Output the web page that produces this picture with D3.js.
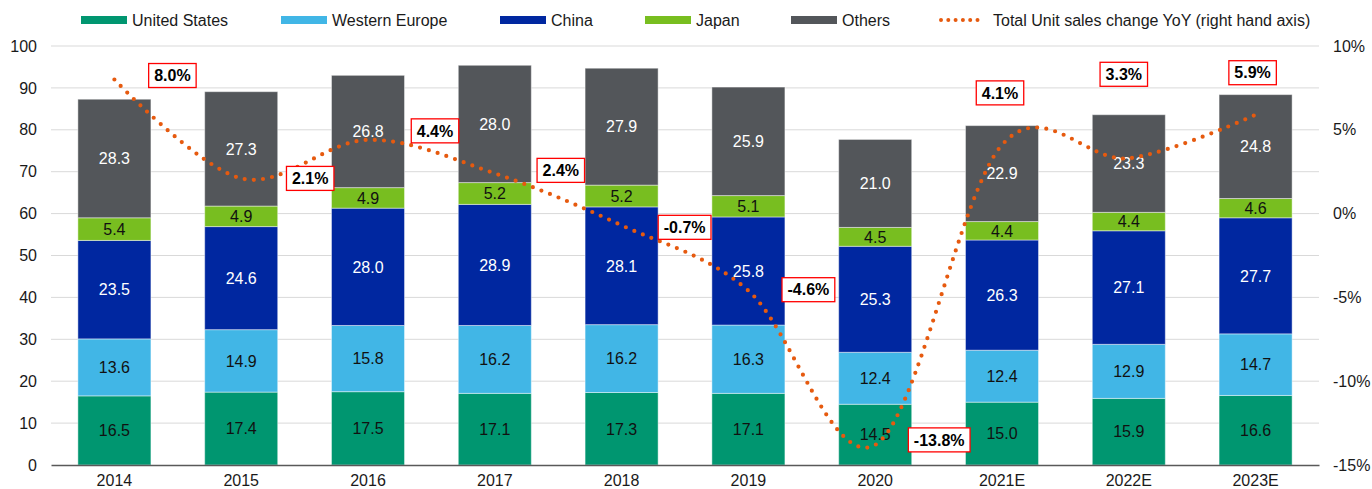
<!DOCTYPE html>
<html>
<head>
<meta charset="utf-8">
<script src="https://cdn.jsdelivr.net/npm/d3@7"></script>
<style>
  body { margin: 0; background: #fff; }
  text { font-family: "Liberation Sans", Arial, sans-serif; }
</style>
</head>
<body>
<div id="vis-container"></div>
<script>
// categories and values
var years = ["2014", "2015", "2016", "2017", "2018", "2019", "2020", "2021E", "2022E", "2023E"];
var unitedStates = [16.5, 17.4, 17.5, 17.1, 17.3, 17.1, 14.5, 15.0, 15.9, 16.6];
var westernEurope = [13.6, 14.9, 15.8, 16.2, 16.2, 16.3, 12.4, 12.4, 12.9, 14.7];
var china = [23.5, 24.6, 28.0, 28.9, 28.1, 25.8, 25.3, 26.3, 27.1, 27.7];
var japan = [5.4, 4.9, 4.9, 5.2, 5.2, 5.1, 4.5, 4.4, 4.4, 4.6];
var others = [28.3, 27.3, 26.8, 28.0, 27.9, 25.9, 21.0, 22.9, 23.3, 24.8];
var yoyChange = [8.0, 2.1, 4.4, 2.4, -0.7, -4.6, -13.8, 4.1, 3.3, 5.9];

var leftTicks = [0, 10, 20, 30, 40, 50, 60, 70, 80, 90, 100];
var rightTicks = [-15, -10, -5, 0, 5, 10];

var series = [
    { name: "United States", values: unitedStates, color: "#009670", text: "#111" },
    { name: "Western Europe", values: westernEurope, color: "#41B6E6", text: "#111" },
    { name: "China", values: china, color: "#0027A0", text: "#fff" },
    { name: "Japan", values: japan, color: "#78BE20", text: "#111" },
    { name: "Others", values: others, color: "#53565A", text: "#fff" }
];
var lineName = "Total Unit sales change YoY (right hand axis)";
var lineColor = "#E65A0F";

// where the YoY callouts sit relative to their point (px), placed by hand in the original
var calloutOffset = [[58, -4], [69, 0], [67, -9], [66, -3], [63, 2], [60, -1], [64, -5], [-2, -52], [-5, -84], [-3, -42]];

var width = 1372;
var height = 489;
var margins = { top: 46, right: 53, bottom: 24, left: 51 };
var visWidth = width - margins.left - margins.right;
var visHeight = height - margins.top - margins.bottom;

var svg = d3.select("#vis-container").append("svg")
    .attr("width", width)
    .attr("height", height);

var viewport = svg.append("g")
    .attr("transform", "translate(" + margins.left + "," + margins.top + ")");

var x = d3.scaleBand().domain(years).range([0, visWidth]).paddingInner(0.424).paddingOuter(0.212);
var y = d3.scaleLinear().domain([0, 100]).range([visHeight, 0]);
var yRight = d3.scaleLinear().domain([-15, 10]).range([visHeight, 0]);

// gridlines
viewport.append("g").selectAll("line")
    .data(leftTicks.filter(d => d > 0)).enter()
    .append("line")
    .attr("x1", 0).attr("x2", visWidth)
    .attr("y1", d => y(d)).attr("y2", d => y(d))
    .attr("stroke", "#D9D9D9").attr("stroke-width", 1);

// stacked bars
var rows = years.map((yr, i) => {
    var r = { year: yr };
    series.forEach(s => { r[s.name] = s.values[i]; });
    return r;
});
var stack = d3.stack().keys(series.map(s => s.name))(rows);

var layers = viewport.append("g").selectAll("g")
    .data(stack).enter()
    .append("g");

layers.each(function(layer, li) {
    var s = series[li];
    var g = d3.select(this);
    g.selectAll("rect")
        .data(layer).enter()
        .append("rect")
        .attr("x", d => x(d.data.year))
        .attr("width", x.bandwidth())
        .attr("y", d => y(d[1]))
        .attr("height", d => y(d[0]) - y(d[1]))
        .attr("fill", s.color)
        .attr("stroke", "rgba(255,255,255,0.45)")
        .attr("stroke-width", 1);
    g.selectAll("text")
        .data(layer).enter()
        .append("text")
        .attr("x", d => x(d.data.year) + x.bandwidth() / 2)
        .attr("y", d => (y(d[0]) + y(d[1])) / 2)
        .attr("dy", "0.36em")
        .attr("text-anchor", "middle")
        .attr("font-size", 16)
        .attr("fill", s.text)
        .text(d => (d[1] - d[0]).toFixed(1));
});

// axes
var axisG = viewport.append("g");

var xAxis = axisG.append("g")
    .attr("transform", "translate(0," + visHeight + ")")
    .call(d3.axisBottom(x).tickSize(0).tickSizeOuter(0).tickPadding(10));
xAxis.select(".domain").attr("stroke", "#595959").attr("stroke-width", 1.3);

var yAxis = axisG.append("g")
    .call(d3.axisLeft(y).tickValues(leftTicks).tickSize(0).tickPadding(14));

var yAxisRight = axisG.append("g")
    .attr("transform", "translate(" + visWidth + ",0)")
    .call(d3.axisRight(yRight).tickValues(rightTicks).tickSize(0).tickPadding(14).tickFormat(d => d + "%"));

[xAxis, yAxis, yAxisRight].forEach(a => {
    a.selectAll("text").attr("font-size", 16).attr("fill", "#1a1a1a")
        .style("font-family", "'Liberation Sans', Arial, sans-serif");
});
yAxis.select(".domain").remove();
yAxisRight.select(".domain").remove();

// YoY line, smoothed like the spreadsheet one
var lineGen = d3.line()
    .x((d, i) => x(years[i]) + x.bandwidth() / 2)
    .y(d => yRight(d))
    .curve(d3.curveCatmullRom.alpha(0));

viewport.append("path")
    .attr("d", lineGen(yoyChange))
    .attr("fill", "none")
    .attr("stroke", lineColor)
    .attr("stroke-width", 4.2)
    .attr("stroke-linecap", "round")
    .attr("stroke-dasharray", "0 9.2");

// callouts
var callouts = viewport.append("g").selectAll("g")
    .data(yoyChange).enter()
    .append("g")
    .attr("transform", (d, i) => "translate(" + (x(years[i]) + x.bandwidth() / 2 + calloutOffset[i][0]) + "," + (yRight(d) + calloutOffset[i][1]) + ")");

callouts.append("text")
    .attr("text-anchor", "middle")
    .attr("dy", "0.36em")
    .attr("font-size", 16)
    .attr("font-weight", "bold")
    .attr("fill", "#000")
    .text(d => d.toFixed(1) + "%");

callouts.each(function() {
    var g = d3.select(this);
    var bb = g.select("text").node().getBBox();
    g.insert("rect", "text")
        .attr("x", bb.x - 5.5)
        .attr("y", -12)
        .attr("width", bb.width + 11)
        .attr("height", 24)
        .attr("fill", "#fff")
        .attr("stroke", "#FF0000")
        .attr("stroke-width", 1.3);
});

// legend
var legendItems = series.map(s => ({ name: s.name, color: s.color, type: "bar" }))
    .concat([{ name: lineName, color: lineColor, type: "line" }]);
var legendX = [81, 281, 500, 645, 791, 940];

var legend = svg.append("g").selectAll("g")
    .data(legendItems).enter()
    .append("g")
    .attr("transform", (d, i) => "translate(" + legendX[i] + ",20)");

legend.filter(d => d.type === "bar").append("rect")
    .attr("x", 0).attr("y", -4)
    .attr("width", 46).attr("height", 8)
    .attr("fill", d => d.color);

legend.filter(d => d.type === "line").append("line")
    .attr("x1", 1).attr("x2", 41)
    .attr("stroke", d => d.color)
    .attr("stroke-width", 4)
    .attr("stroke-linecap", "round")
    .attr("stroke-dasharray", "0 7.3");

legend.append("text")
    .attr("x", d => d.type === "bar" ? 51 : 53)
    .attr("dy", "0.36em")
    .attr("font-size", 16)
    .attr("fill", "#1a1a1a")
    .text(d => d.name);
</script>
</body>
</html>
